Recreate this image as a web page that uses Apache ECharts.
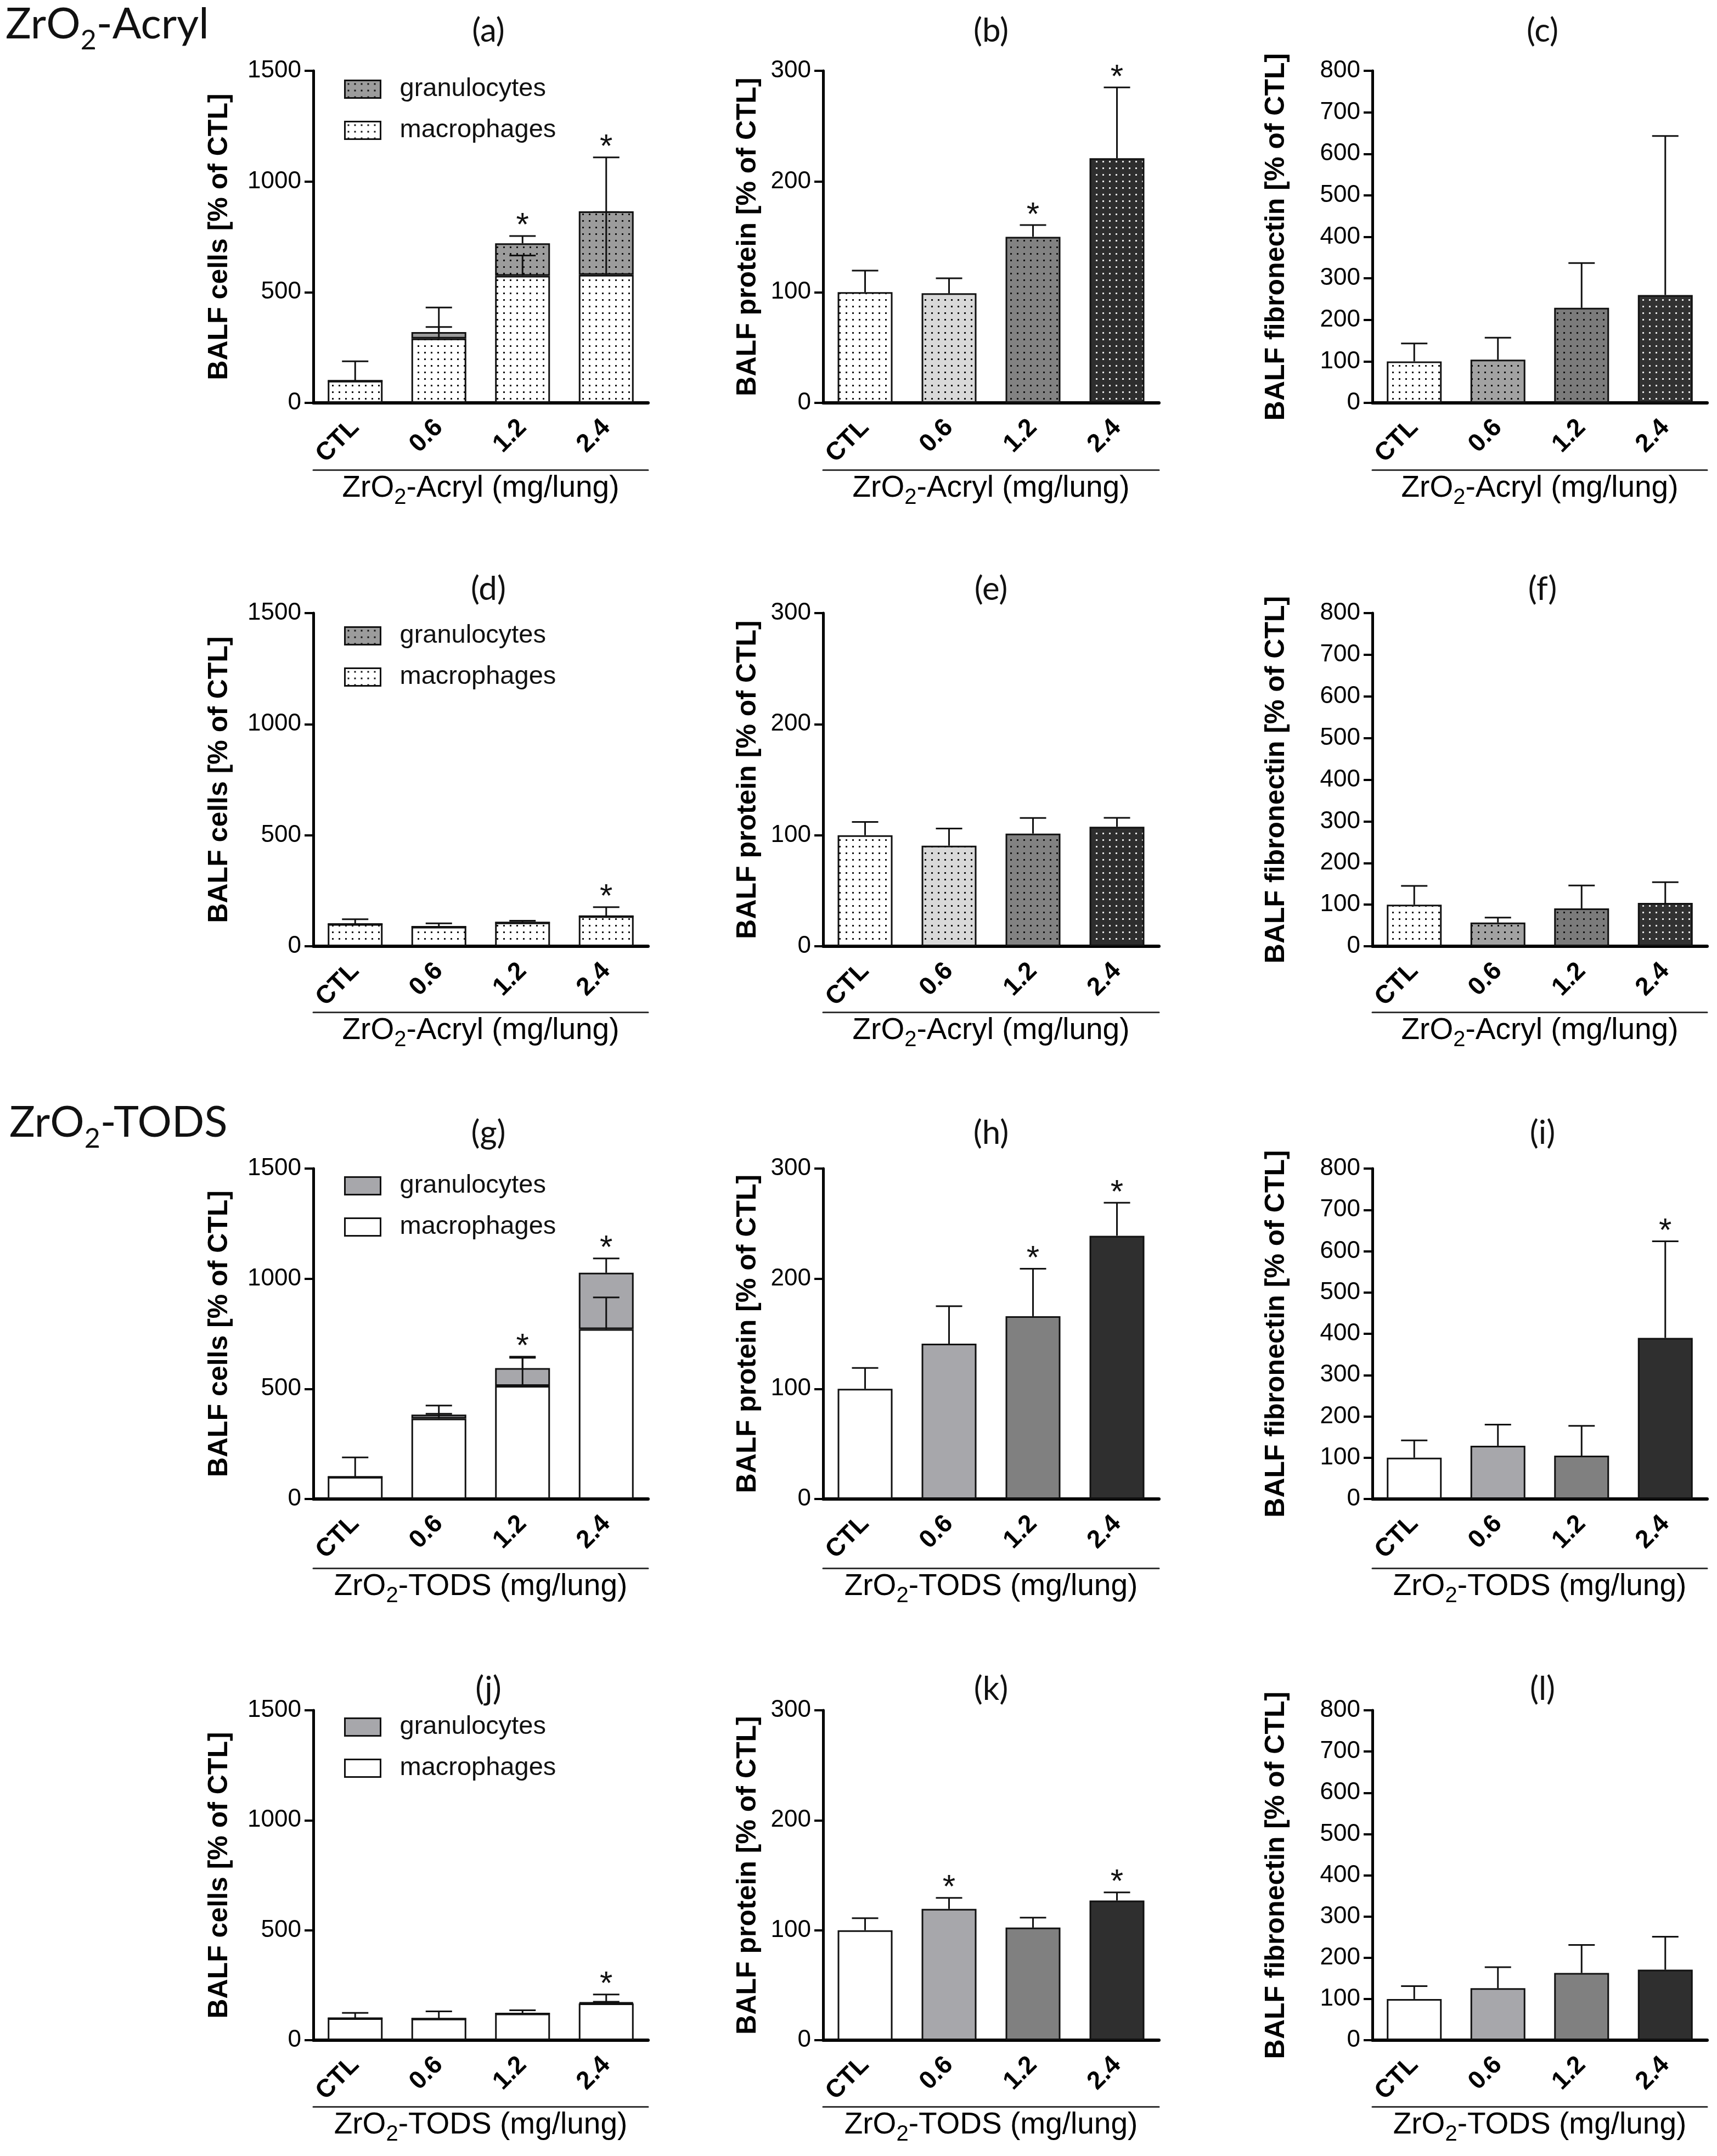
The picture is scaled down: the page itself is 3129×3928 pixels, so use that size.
<!DOCTYPE html>
<html><head><meta charset="utf-8">
<script src="https://cdn.jsdelivr.net/npm/echarts@6/dist/echarts.min.js"></script>
<style>html,body{margin:0;padding:0;background:#fff}#c{width:3129px;height:3928px}</style>
</head><body><div id="c"></div>
<script>
const cats = ['CTL', '0.6', '1.2', '2.4'];
const yTicksCells = [0, 500, 1000, 1500];
const yTicksProtein = [0, 100, 200, 300];
const yTicksFibro = [0, 100, 200, 300, 400, 500, 600, 700, 800];
// (a) ZrO2-Acryl cells (stacked)
const aMacro = [100, 291, 574, 578];
const aGran = [0, 29, 147, 287];
const aMacroErr = [0, 52, 92, 284];
const aTotalErr = [88, 111, 33, 244];
const aStar = [0, 0, 1, 1];
// (b) protein
const bMean = [100, 99, 150, 221];
const bErr = [19.5, 13.6, 10.6, 64];
const bStar = [0, 0, 1, 1];
// (c) fibronectin
const cMean = [100, 104, 229, 260];
const cErr = [43, 53, 108, 383];
const cStar = [0, 0, 0, 0];
// (d)
const dMacro = [100, 88, 107, 135];
const dGran = [0, 0, 0, 0];
const dMacroErr = [0, 0, 0, 0];
const dTotalErr = [22, 15, 8, 41];
const dStar = [0, 0, 0, 1];
// (e)
const eMean = [100, 90.6, 101.5, 107.6];
const eErr = [12, 15.4, 14, 8];
const eStar = [0, 0, 0, 0];
// (f)
const fMean = [100, 57, 91, 104];
const fErr = [45, 12, 55, 50];
const fStar = [0, 0, 0, 0];
// (g) ZrO2-TODS cells (stacked)
const gMacro = [100, 365, 513, 771];
const gGran = [0, 18, 81, 256];
const gMacroErr = [0, 22, 128, 144];
const gTotalErr = [89, 41, 52, 65];
const gStar = [0, 0, 1, 1];
// (h)
const hMean = [100, 141, 166, 239];
const hErr = [19, 34, 43, 30];
const hStar = [0, 0, 1, 1];
// (i)
const iMean = [100, 129, 105, 390];
const iErr = [42, 51, 72, 234];
const iStar = [0, 0, 0, 1];
// (j)
const jMacro = [100, 98, 121, 167];
const jGran = [0, 0, 0, 5];
const jMacroErr = [0, 0, 0, 8];
const jTotalErr = [24, 33, 15, 36];
const jStar = [0, 0, 0, 1];
// (k)
const kMean = [100, 119.4, 102.4, 127];
const kErr = [11, 10, 9, 7.4];
const kStar = [0, 1, 0, 1];
// (l)
const lMean = [100, 126, 163, 171];
const lErr = [31, 51, 68, 80];
const lStar = [0, 0, 0, 0];

// ---------- layout ----------
const colLeft = [571, 1500, 2501];
const colWidth = [610, 612, 610];
const rowTop = [129, 1117, 2129, 3116];
const rowH = [605, 607, 602, 601];
const lineOff = [122, 120, 126, 121];
const titleY = [57, 1074, 2065, 3078];
const titleX = [890, 1806, 2811];
const legendTop = [139, 1135, 2137, 3123];
const yNameGap = [146, 112, 150];
const FONT = 'Liberation Sans';

function pat(bg, dot) {
  const c = document.createElement('canvas');
  c.width = 12; c.height = 12;
  const g = c.getContext('2d');
  g.fillStyle = bg; g.fillRect(0, 0, 12, 12);
  if (dot) { g.fillStyle = dot; g.fillRect(5, 5, 3, 3); }
  return { image: c, repeat: 'repeat' };
}
const fillAcrylB = [pat('#ffffff', '#111'), pat('#d9d9d9', '#111'), pat('#828282', '#111'), pat('#2e2e2e', '#e6e6e6')];
const fillAcrylC = [pat('#ffffff', '#111'), pat('#a2a2a2', '#111'), pat('#7b7b7b', '#111'), pat('#323232', '#e6e6e6')];
const fillTods = ['#ffffff', '#a7a7ab', '#808080', '#2f2f2f'];
const granA = pat('#9c9c9c', '#111'), macroA = pat('#ffffff', '#111');
const granT = '#a7a7ab', macroT = '#ffffff';

function errRender(params, api) {
  const x = api.value(0), base = api.value(1), err = api.value(2), star = api.value(3);
  const p0 = api.coord([x, base]);
  const p1 = api.coord([x, base + err]);
  const ch = [];
  const st = { stroke: '#111', lineWidth: 3 };
  if (err > 0) {
    ch.push({ type: 'line', shape: { x1: p0[0], y1: p0[1], x2: p1[0], y2: p1[1] }, style: st });
    ch.push({ type: 'line', shape: { x1: p1[0] - 24, y1: p1[1], x2: p1[0] + 24, y2: p1[1] }, style: st });
  }
  if (star) {
    ch.push({ type: 'text', x: p1[0], y: p1[1] - 17, style: { text: '*', fontSize: 60, fontFamily: FONT, fill: '#111', align: 'center', verticalAlign: 'middle' } });
  }
  return { type: 'group', children: ch };
}

const grids = [], xAxes = [], yAxes = [], series = [], legends = [], graphics = [];
const letters = 'abcdefghijkl';

function addPanel(r, c, cfg) {
  const p = r * 3 + c;
  grids.push({ left: colLeft[c], top: rowTop[r], width: colWidth[c], height: rowH[r], containLabel: false });
  const ticks = cfg.ticks;
  yAxes.push({
    gridIndex: p, type: 'value', min: 0, max: ticks[ticks.length - 1], interval: ticks[1] - ticks[0],
    axisLine: { show: true, lineStyle: { color: '#000', width: 5 } },
    axisTick: { show: true, length: 16, lineStyle: { color: '#000', width: 4 } },
    axisLabel: { fontSize: 44, color: '#000', margin: 22, fontFamily: FONT, formatter: v => String(v) },
    splitLine: { show: false },
    name: cfg.yName, nameLocation: 'middle', nameGap: yNameGap[c],
    nameTextStyle: { fontSize: 50, fontWeight: 'bold', color: '#000', fontFamily: FONT }
  });
  xAxes.push({
    gridIndex: p, type: 'category', data: cats,
    axisLine: { lineStyle: { color: '#000', width: 6 } },
    axisTick: { alignWithLabel: true, length: 15, lineStyle: { color: '#000', width: 5 } },
    axisLabel: { rotate: 45, interval: 0, fontSize: 46, fontWeight: 'bold', color: '#000', margin: 38, fontFamily: FONT }
  });
  xAxes.push({
    gridIndex: p, type: 'category', data: cats, position: 'bottom', offset: lineOff[r],
    axisLine: { lineStyle: { color: '#333', width: 3 } },
    axisTick: { show: false }, axisLabel: { show: false },
    name: cfg.xName, nameLocation: 'middle', nameGap: -6,
    nameTextStyle: { fontSize: 55, color: '#000', fontFamily: FONT, lineHeight: 80,
      rich: { s: { fontSize: 40, padding: [33, 0, 0, 0], fontFamily: FONT, color: '#000' } } }
  });
  const xi = 2 * p;
  if (cfg.stack) {
    series.push({ type: 'bar', name: 'macrophages', xAxisIndex: xi, yAxisIndex: p, stack: 's' + p, barWidth: 100,
      data: cfg.macro, itemStyle: { color: cfg.macroFill, borderColor: '#111', borderWidth: 3 }, silent: true });
    series.push({ type: 'bar', name: 'granulocytes', xAxisIndex: xi, yAxisIndex: p, stack: 's' + p, barWidth: 100,
      data: cfg.gran, itemStyle: { color: cfg.granFill, borderColor: '#111', borderWidth: 3 }, silent: true });
    series.push({ type: 'custom', xAxisIndex: xi, yAxisIndex: p, renderItem: errRender, z: 10, silent: true,
      encode: { x: 0, y: 1 }, data: cfg.macro.map((v, i) => [i, v, cfg.macroErr[i], 0]) });
    series.push({ type: 'custom', xAxisIndex: xi, yAxisIndex: p, renderItem: errRender, z: 10, silent: true,
      encode: { x: 0, y: 1 }, data: cfg.macro.map((v, i) => [i, v + cfg.gran[i], cfg.totalErr[i], cfg.star[i]]) });
    legends.push({
      left: colLeft[c] + 56, top: legendTop[r], orient: 'vertical', icon: 'rect',
      itemWidth: 65, itemHeight: 32, itemGap: 28, selectedMode: false, padding: 0,
      textStyle: { fontSize: 47, color: '#111', fontFamily: FONT, padding: [0, 0, 0, 30], lineHeight: 32 },
      data: [
        { name: 'granulocytes', itemStyle: { color: cfg.granFill, borderColor: '#111', borderWidth: 3 } },
        { name: 'macrophages', itemStyle: { color: cfg.macroFill, borderColor: '#111', borderWidth: 3 } }
      ]
    });
  } else {
    series.push({ type: 'bar', xAxisIndex: xi, yAxisIndex: p, barWidth: 100, silent: true,
      data: cfg.mean.map((v, i) => ({ value: v, itemStyle: { color: cfg.fills[i] } })),
      itemStyle: { borderColor: '#111', borderWidth: 3 } });
    series.push({ type: 'custom', xAxisIndex: xi, yAxisIndex: p, renderItem: errRender, z: 10, silent: true,
      encode: { x: 0, y: 1 }, data: cfg.mean.map((v, i) => [i, v, cfg.err[i], cfg.star[i]]) });
  }
  graphics.push({ type: 'text', x: titleX[c], y: titleY[r], style: { text: '(' + letters[p] + ')', fontSize: 60, fontFamily: 'Lato', fill: '#111', align: 'center', verticalAlign: 'middle' } });
}

const xAcryl = 'ZrO{s|2}-Acryl (mg/lung)';
const xTods = 'ZrO{s|2}-TODS (mg/lung)';
const nCells = 'BALF cells [% of CTL]';
const nProt = 'BALF protein [% of CTL]';
const nFib = 'BALF fibronectin [% of CTL]';

addPanel(0, 0, { stack: true, ticks: yTicksCells, yName: nCells, xName: xAcryl, macro: aMacro, gran: aGran, macroErr: aMacroErr, totalErr: aTotalErr, star: aStar, macroFill: macroA, granFill: granA });
addPanel(0, 1, { ticks: yTicksProtein, yName: nProt, xName: xAcryl, mean: bMean, err: bErr, star: bStar, fills: fillAcrylB });
addPanel(0, 2, { ticks: yTicksFibro, yName: nFib, xName: xAcryl, mean: cMean, err: cErr, star: cStar, fills: fillAcrylC });
addPanel(1, 0, { stack: true, ticks: yTicksCells, yName: nCells, xName: xAcryl, macro: dMacro, gran: dGran, macroErr: dMacroErr, totalErr: dTotalErr, star: dStar, macroFill: macroA, granFill: granA });
addPanel(1, 1, { ticks: yTicksProtein, yName: nProt, xName: xAcryl, mean: eMean, err: eErr, star: eStar, fills: fillAcrylB });
addPanel(1, 2, { ticks: yTicksFibro, yName: nFib, xName: xAcryl, mean: fMean, err: fErr, star: fStar, fills: fillAcrylC });
addPanel(2, 0, { stack: true, ticks: yTicksCells, yName: nCells, xName: xTods, macro: gMacro, gran: gGran, macroErr: gMacroErr, totalErr: gTotalErr, star: gStar, macroFill: macroT, granFill: granT });
addPanel(2, 1, { ticks: yTicksProtein, yName: nProt, xName: xTods, mean: hMean, err: hErr, star: hStar, fills: fillTods });
addPanel(2, 2, { ticks: yTicksFibro, yName: nFib, xName: xTods, mean: iMean, err: iErr, star: iStar, fills: fillTods });
addPanel(3, 0, { stack: true, ticks: yTicksCells, yName: nCells, xName: xTods, macro: jMacro, gran: jGran, macroErr: jMacroErr, totalErr: jTotalErr, star: jStar, macroFill: macroT, granFill: granT });
addPanel(3, 1, { ticks: yTicksProtein, yName: nProt, xName: xTods, mean: kMean, err: kErr, star: kStar, fills: fillTods });
addPanel(3, 2, { ticks: yTicksFibro, yName: nFib, xName: xTods, mean: lMean, err: lErr, star: lStar, fills: fillTods });

const headRich = { s: { fontSize: 50, padding: [58, 0, 0, 0], fontFamily: 'Lato', fill: '#111' } };
graphics.push({ type: 'text', x: 10, y: 45, style: { text: 'ZrO{s|2}-Acryl', fontSize: 78, lineHeight: 90, fontFamily: 'Lato', fill: '#111', align: 'left', verticalAlign: 'middle', rich: headRich } });
graphics.push({ type: 'text', x: 17, y: 2046, style: { text: 'ZrO{s|2}-TODS', fontSize: 78, lineHeight: 90, fontFamily: 'Lato', fill: '#111', align: 'left', verticalAlign: 'middle', rich: headRich } });

const chart = echarts.init(document.getElementById('c'));
chart.setOption({
  backgroundColor: '#fff',
  animation: false,
  textStyle: { fontFamily: FONT },
  grid: grids, xAxis: xAxes, yAxis: yAxes, series: series, legend: legends, graphic: graphics
});
</script></body></html>
